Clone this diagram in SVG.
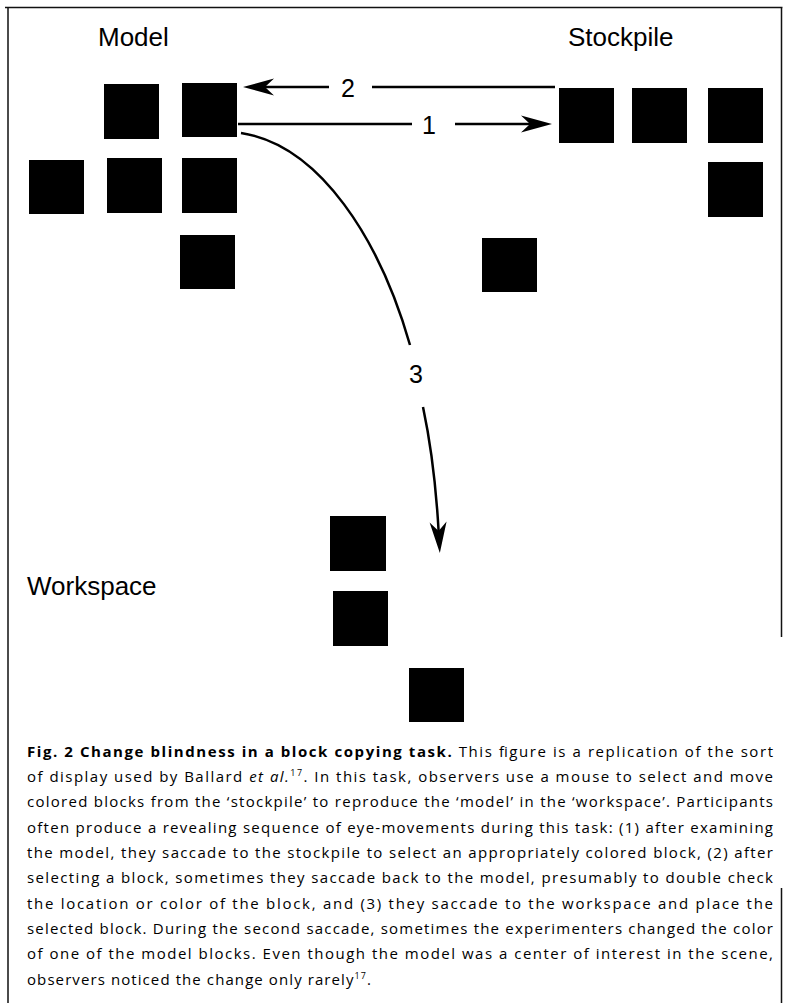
<svg xmlns="http://www.w3.org/2000/svg" width="789" height="1003" viewBox="0 0 789 1003">
<style>
.blk{fill:#000}
.lbl{font-family:"Liberation Sans",Arial,sans-serif;font-size:26px;fill:#000}
.num{font-family:"Liberation Sans",Arial,sans-serif;font-size:25px;fill:#000;text-anchor:middle}
.ln{fill:none;stroke:#000;stroke-width:2.5}
.frame{fill:none;stroke:#111;stroke-width:1.5}
.cap{font-family:"Open Sans","Noto Sans",sans-serif;font-size:15px;fill:#000}
.b{font-weight:bold}
.sup{font-size:9px}
</style>
<defs>
<marker id="ah" markerUnits="userSpaceOnUse" markerWidth="32" markerHeight="20" refX="0" refY="0" orient="auto" overflow="visible">
<path d="M22,0 L-9,-8.5 L0,0 L-9,8.5 Z" fill="#000"/>
</marker>
</defs>
<rect width="789" height="1003" fill="#fff"/>
<g id="frame">
<path class="frame" d="M5,7.5 H782.5 M8,7 V1003 M781.5,7 V637 M781.5,888 V1003"/>
</g>
<g id="labels">
<text class="lbl" x="98" y="46">Model</text>
<text class="lbl" x="568" y="46">Stockpile</text>
<text class="lbl" x="27" y="595">Workspace</text>
</g>
<g id="model-a"><rect class="blk" x="104" y="84" width="55" height="55"/></g>
<g id="model-b"><rect class="blk" x="182" y="83" width="55" height="54"/></g>
<g id="model-c"><rect class="blk" x="29" y="160" width="55" height="54"/></g>
<g id="model-d"><rect class="blk" x="107" y="158" width="55" height="55"/></g>
<g id="model-e"><rect class="blk" x="182" y="158" width="55" height="55"/></g>
<g id="model-f"><rect class="blk" x="180" y="235" width="55" height="54"/></g>
<g id="stock-g"><rect class="blk" x="559" y="88" width="55" height="55"/></g>
<g id="stock-h"><rect class="blk" x="632" y="88" width="55" height="55"/></g>
<g id="stock-i"><rect class="blk" x="708" y="88" width="55" height="55"/></g>
<g id="stock-j"><rect class="blk" x="708" y="162" width="55" height="55"/></g>
<g id="stock-k"><rect class="blk" x="482" y="238" width="55" height="54"/></g>
<g id="work-l"><rect class="blk" x="330" y="516" width="56" height="55"/></g>
<g id="work-m"><rect class="blk" x="333" y="591" width="55" height="55"/></g>
<g id="work-n"><rect class="blk" x="409" y="668" width="55" height="54"/></g>
<g id="connectors">
<path class="ln" d="M238,124 H412"/>
<path class="ln" d="M455,124 H530" marker-end="url(#ah)"/>
<text class="num" x="429" y="134">1</text>
<path class="ln" d="M555,87 H372"/>
<path class="ln" d="M329,87 H265" marker-end="url(#ah)"/>
<text class="num" x="348" y="97">2</text>
<path class="ln" d="M241,133 C320,145 380,240 410,345"/>
<path class="ln" d="M423,407 C430,440 436,485 438.6,531" marker-end="url(#ah)"/>
<text class="num" x="416" y="383">3</text>
</g>
<g id="caption" class="cap">
<text x="27" y="757" textLength="746" lengthAdjust="spacing"><tspan class="b">Fig. 2 Change blindness in a block copying task.</tspan> This figure is a replication of the sort</text>
<text x="27" y="782" textLength="746" lengthAdjust="spacing">of display used by Ballard <tspan font-style="italic">et al.</tspan><tspan class="sup" dy="-6">17</tspan><tspan dy="6">. In this task, observers use a mouse to select and move</tspan></text>
<text x="27" y="807" textLength="746" lengthAdjust="spacing">colored blocks from the ‘stockpile’ to reproduce the ‘model’ in the ‘workspace’. Participants</text>
<text x="27" y="833" textLength="746" lengthAdjust="spacing">often produce a revealing sequence of eye-movements during this task: (1) after examining</text>
<text x="27" y="858" textLength="746" lengthAdjust="spacing">the model, they saccade to the stockpile to select an appropriately colored block, (2) after</text>
<text x="27" y="883" textLength="746" lengthAdjust="spacing">selecting a block, sometimes they saccade back to the model, presumably to double check</text>
<text x="27" y="909" textLength="746" lengthAdjust="spacing">the location or color of the block, and (3) they saccade to the workspace and place the</text>
<text x="27" y="934" textLength="746" lengthAdjust="spacing">selected block. During the second saccade, sometimes the experimenters changed the color</text>
<text x="27" y="959" textLength="746" lengthAdjust="spacing">of one of the model blocks. Even though the model was a center of interest in the scene,</text>
<text x="27" y="985" textLength="344" lengthAdjust="spacing">observers noticed the change only rarely<tspan class="sup" dy="-6">17</tspan><tspan dy="6">.</tspan></text>
</g>
</svg>
